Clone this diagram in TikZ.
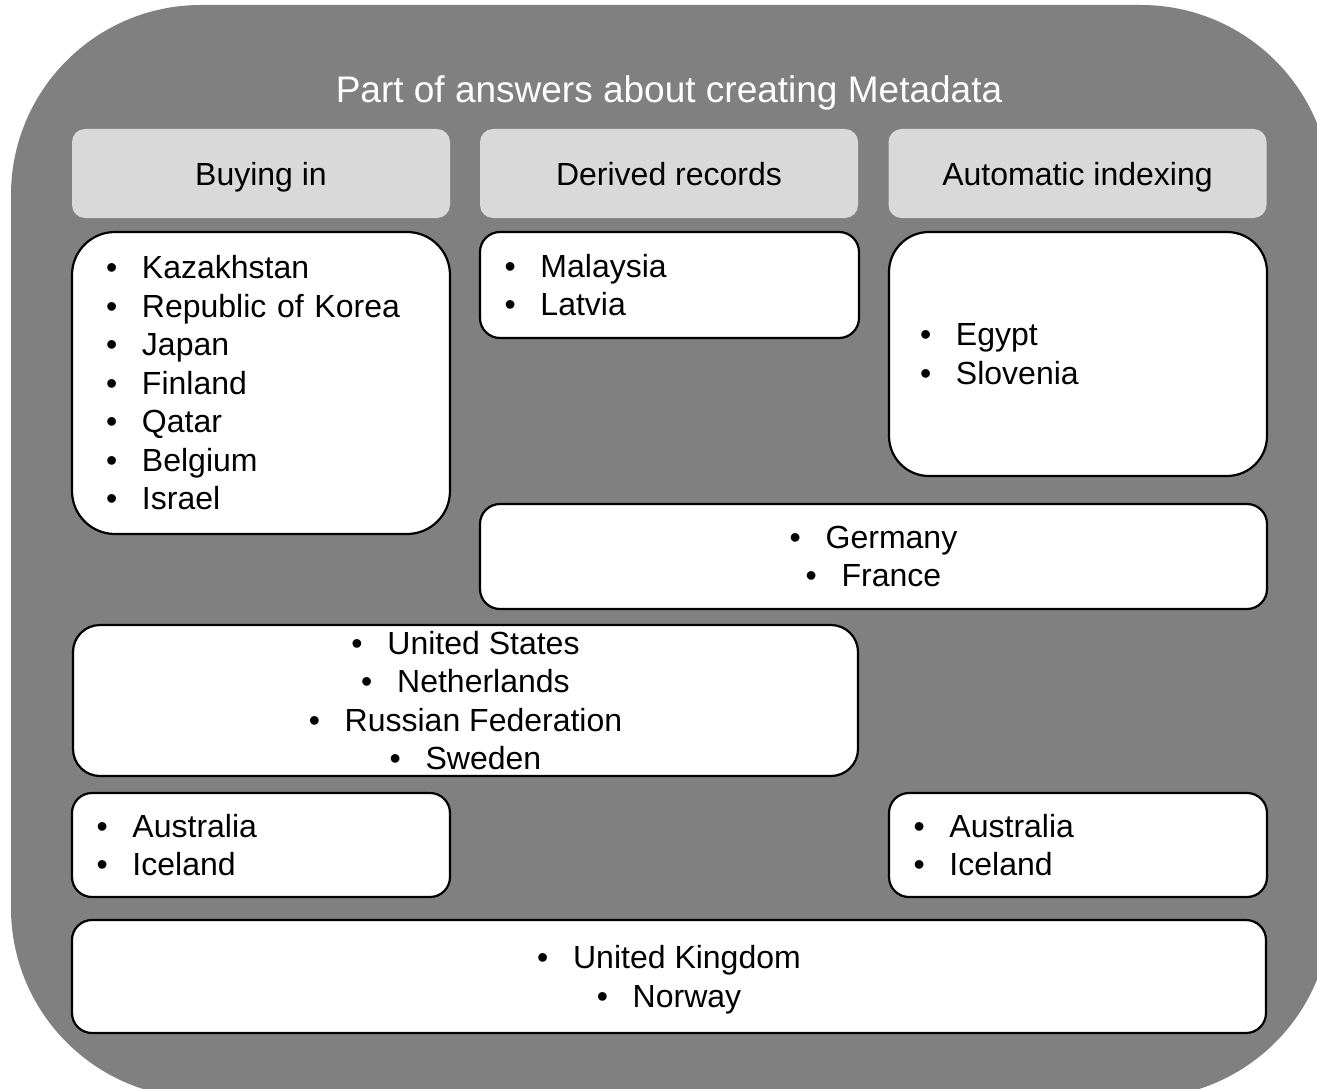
\documentclass[tikz,border=0pt]{standalone}
\usepackage{fontspec}
\setmainfont{Liberation Sans}
\definecolor{bggray}{HTML}{808080}
\definecolor{hdrgray}{HTML}{D9D9D9}
\newcommand{\bul}[1]{\makebox[36pt][l]{\textbullet}#1}
\begin{document}
\begin{tikzpicture}[x=1pt,y=-1pt,
  hdr/.style={fill=hdrgray, rounded corners=13pt, minimum width=378pt, minimum height=89pt, inner sep=0pt, text height=23pt, text depth=0pt, font=\fontsize{32}{38.5}\selectfont},
  lst/.style={draw=black, fill=white, line width=2.2pt, inner ysep=0pt, align=left, font=\fontsize{32}{38.5}\selectfont},
  ctr/.style={draw=black, fill=white, line width=2.2pt, inner sep=0pt, align=center, font=\fontsize{32}{38.5}\selectfont}]
  \useasboundingbox (0,0) rectangle (1317,1089);
  \clip (0,0) rectangle (1317,1089);
  \fill[bggray, rounded corners=190pt] (11,5) rectangle (1331,1098);
  \node[text=white, font=\fontsize{37}{44}\selectfont, anchor=base] (title) at (669,103) {Part of answers about creating Metadata};
  % column heads
  \node[hdr] (buying) at (261,173.5) {Buying in};
  \node[hdr] (derived) at (669,173.5) {Derived records};
  \node[hdr] (autoidx) at (1077.5,173.5) {Automatic indexing};
  % answers
  \node[lst, rounded corners=43pt, inner xsep=34pt, text width=310pt, minimum height=302pt] (buyList) at (261,383) {\bul{Kazakhstan}\\ \bul{Republic of Korea}\\ \bul{Japan}\\ \bul{Finland}\\ \bul{Qatar}\\ \bul{Belgium}\\ \bul{Israel}};
  \node[lst, rounded corners=20pt, inner xsep=24.5pt, text width=330pt, minimum height=106pt] (derivedList) at (669.5,285) {\bul{Malaysia}\\ \bul{Latvia}};
  \node[lst, rounded corners=40pt, inner xsep=31pt, text width=316pt, minimum height=244pt] (autoList) at (1078,354) {\bul{Egypt}\\ \bul{Slovenia}};
  \node[ctr, rounded corners=20pt, minimum width=787pt, minimum height=105pt] (germFr) at (873.5,556.5) {\bul{Germany}\\ \bul{France}};
  \node[ctr, rounded corners=27pt, minimum width=785pt, minimum height=151pt] (usGroup) at (465.5,700.5) {\bul{United States}\\ \bul{Netherlands}\\ \bul{Russian Federation}\\ \bul{Sweden}};
  \node[lst, rounded corners=20pt, inner xsep=24.5pt, text width=329pt, minimum height=104pt] (ausLeft) at (261,845) {\bul{Australia}\\ \bul{Iceland}};
  \node[lst, rounded corners=20pt, inner xsep=24.5pt, text width=329pt, minimum height=104pt] (ausRight) at (1078,845) {\bul{Australia}\\ \bul{Iceland}};
  \node[ctr, rounded corners=20pt, minimum width=1194pt, minimum height=113pt] (ukNo) at (669,976.5) {\bul{United Kingdom}\\ \bul{\raisebox{0pt}[\height][0pt]{Norway}}};
\end{tikzpicture}
\end{document}
